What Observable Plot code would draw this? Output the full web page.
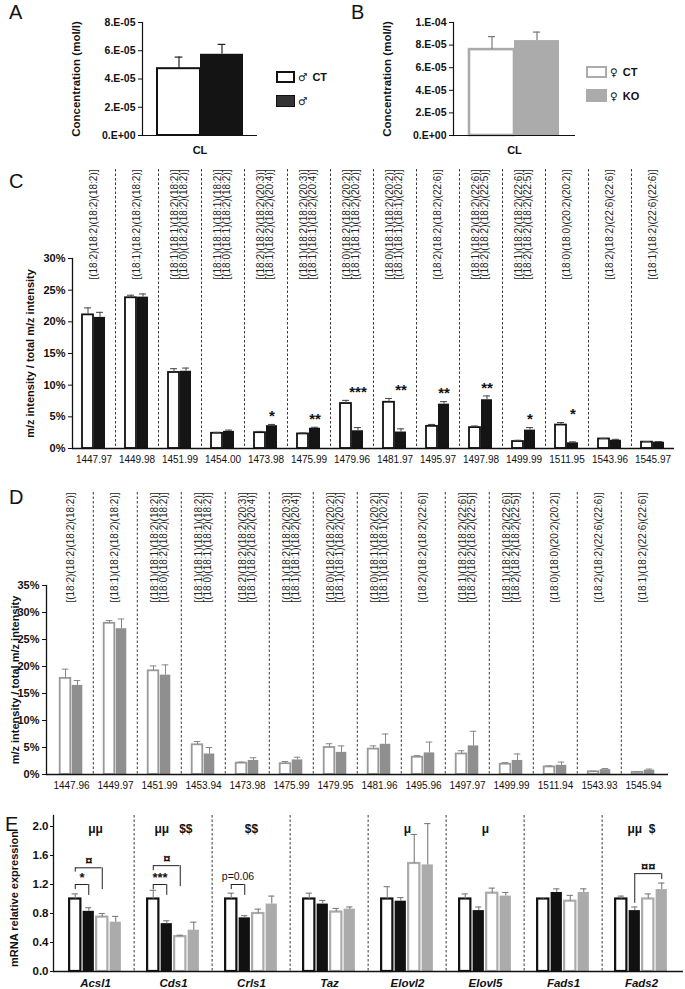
<!DOCTYPE html>
<html><head><meta charset="utf-8">
<script src="https://cdn.jsdelivr.net/npm/d3@7"></script>
<script src="https://cdn.jsdelivr.net/npm/@observablehq/plot@0.6"></script>
<style>
body{margin:0;background:#fff;}
#root{position:relative;width:685px;height:989px;overflow:hidden;font-family:"Liberation Sans",Arial,Helvetica,sans-serif;color:#111;}
.panel{position:absolute;left:0;}
.letter{position:absolute;font-size:20px;line-height:1;}
.leg{position:absolute;display:flex;align-items:center;font-size:11px;font-weight:bold;white-space:nowrap;}
.box{box-sizing:border-box;margin-right:3px;}
.sym{font-weight:normal;font-family:"DejaVu Sans",sans-serif;font-size:10.5px;margin-right:5px;}
.panel g[aria-label="y-axis tick label"]{font-weight:bold;}
</style></head><body><div id="root"></div>
<script>
// ---------- DATA ----------
// Panels A/B: cardiolipin concentration (mol/l)
const clGroups = ["CT", "KO"];
const clMaleMean = [4.73e-5, 5.75e-5];
const clMaleUpper = [5.55e-5, 6.45e-5];
const clFemaleMean = [7.6e-5, 8.4e-5];
const clFemaleUpper = [8.75e-5, 9.15e-5];
const ticksA = [0, 2e-5, 4e-5, 6e-5, 8e-5];
const tickLabelsA = ["0.E+00", "2.E-05", "4.E-05", "6.E-05", "8.E-05"];
const ticksB = [0, 2e-5, 4e-5, 6e-5, 8e-5, 1e-4];
const tickLabelsB = ["0.E+00", "2.E-05", "4.E-05", "6.E-05", "8.E-05", "1.E-04"];

// Species (shared by C and D)
const species = [
  "[(18:2)(18:2)(18:2)(18:2)]",
  "[(18:1)(18:2)(18:2)(18:2)]",
  "[(18:1)(18:1)(18:2)(18:2)]\n[(18:0)(18:2)(18:2)(18:2)]",
  "[(18:1)(18:1)(18:1)(18:2)]\n[(18:0)(18:1)(18:2)(18:2)]",
  "[(18:2)(18:2)(18:2)(20:3)]\n[(18:1)(18:2)(18:2)(20:4)]",
  "[(18:1)(18:2)(18:2)(20:3)]\n[(18:1)(18:1)(18:2)(20:4)]",
  "[(18:0)(18:2)(18:2)(20:2)]\n[(18:1)(18:1)(18:2)(20:2)]",
  "[(18:0)(18:1)(18:2)(20:2)]\n[(18:1)(18:1)(18:1)(20:2)]",
  "[(18:2)(18:2)(18:2)(22:6)]",
  "[(18:1)(18:2)(18:2)(22:6)]\n[(18:2)(18:2)(18:2)(22:5)]",
  "[(18:1)(18:2)(18:2)(22:6)]\n[(18:2)(18:2)(18:2)(22:5)]",
  "[(18:0)(18:0)(20:2)(20:2)]",
  "[(18:2)(18:2)(22:6)(22:6)]",
  "[(18:1)(18:2)(22:6)(22:6)]"
];

// Panel C (males), % of total m/z intensity
const massesC = ["1447.97","1449.98","1451.99","1454.00","1473.98","1475.99","1479.96","1481.97","1495.97","1497.98","1499.99","1511.95","1543.96","1545.97"];
const ctC  = [21.1, 23.8, 12.0, 2.4, 2.5, 2.3, 7.1, 7.3, 3.5, 3.3, 1.1, 3.7, 1.5, 1.0];
const ctCE = [22.2, 24.2, 12.6, 2.55, 2.7, 2.45, 7.6, 7.9, 3.8, 3.55, 1.3, 4.1, 1.6, 1.1];
const koC  = [20.7, 23.9, 12.2, 2.7, 3.6, 3.2, 2.8, 2.6, 7.0, 7.7, 2.9, 0.9, 1.3, 1.0];
const koCE = [21.5, 24.4, 12.7, 2.9, 3.8, 3.35, 3.3, 3.1, 7.4, 8.3, 3.3, 1.05, 1.45, 1.1];
const sigC = ["", "", "", "", "*", "**", "***", "**", "**", "**", "*", "*", "", ""];
const ticksC = [0, 5, 10, 15, 20, 25, 30];

// Panel D (females)
const massesD = ["1447.96","1449.97","1451.99","1453.94","1473.98","1475.99","1479.95","1481.96","1495.96","1497.97","1499.99","1511.94","1543.93","1545.94"];
const ctD  = [17.8, 28.0, 19.2, 5.5, 2.1, 2.0, 5.0, 4.7, 3.2, 3.8, 1.9, 1.4, 0.5, 0.4];
const ctDE = [19.5, 28.5, 20.1, 6.1, 2.3, 2.4, 5.7, 5.3, 3.5, 4.4, 2.2, 1.6, 0.6, 0.5];
const koD  = [16.5, 27.0, 18.4, 3.8, 2.6, 2.7, 4.1, 5.6, 4.0, 5.3, 2.6, 1.7, 0.9, 0.8];
const koDE = [17.4, 28.8, 20.3, 5.0, 3.1, 3.2, 5.3, 7.5, 6.0, 8.0, 3.8, 2.3, 1.1, 1.0];
const ticksD = [0, 5, 10, 15, 20, 25, 30, 35];

// Panel E: mRNA relative expression
const genes = ["Acsl1","Cds1","Crls1","Taz","Elovl2","Elovl5","Fads1","Fads2"];
const seriesE = ["CT male", "KO male", "CT female", "KO female"];
const ctMaleE   = [1.00, 1.00, 1.00, 1.00, 1.00, 1.00, 1.00, 1.00];
const ctMaleEU  = [1.07, 1.12, 1.08, 1.08, 1.17, 1.07, 1.02, 1.04];
const koMaleE   = [0.83, 0.66, 0.74, 0.93, 0.97, 0.84, 1.09, 0.84];
const koMaleEU  = [0.88, 0.70, 0.77, 0.98, 1.02, 0.89, 1.14, 0.89];
const ctFemaleE = [0.75, 0.48, 0.80, 0.82, 1.49, 1.08, 0.97, 1.00];
const ctFemaleEU= [0.80, 0.50, 0.86, 0.87, 1.89, 1.15, 1.05, 1.07];
const koFemaleE = [0.68, 0.57, 0.93, 0.86, 1.47, 1.04, 1.09, 1.13];
const koFemaleEU= [0.76, 0.68, 1.04, 0.89, 2.04, 1.09, 1.14, 1.22];
const ticksE = [0, 0.4, 0.8, 1.2, 1.6, 2.0];
const topNotesE = [["Acsl1","μμ"],["Cds1","μμ   $$"],["Crls1","$$"],["Elovl2","μ"],["Elovl5","μ"],["Fads2","μμ  $"]];
// brackets: gene, from series, to series, bracket level, left end, right end, label
const bracketsE = [
  ["Acsl1", 0, 1, 1.20, 1.13, 1.05, "*"],
  ["Acsl1", 0, 2, 1.43, 1.37, 1.13, "¤"],
  ["Cds1", 0, 1, 1.20, 1.13, 1.05, "***"],
  ["Cds1", 0, 2, 1.46, 1.39, 1.17, "¤"],
  ["Crls1", 0, 1, 1.20, 1.13, 1.05, "p=0.06"],
  ["Fads2", 1, 3, 1.35, 0.94, 1.27, "¤¤"]
];

// ---------- STYLE ----------
const FONT = '"Liberation Sans", Arial, Helvetica, sans-serif';
const W = 685;
const INK = "#111";
const root = document.getElementById("root");
const baseStyle = {background: "none", overflow: "visible", fontFamily: FONT, color: INK};

function place(el, top, left = 0) {
  const d = document.createElement("div");
  d.className = "panel";
  d.style.top = top + "px";
  d.style.left = left + "px";
  d.appendChild(el);
  root.appendChild(d);
}
function letter(t, x, y) {
  const d = document.createElement("div");
  d.className = "letter"; d.textContent = t;
  d.style.left = x + "px"; d.style.top = y + "px";
  root.appendChild(d);
}
function legend(x, y, w, h, boxStyle, sym, label) {
  const d = document.createElement("div");
  d.className = "leg"; d.style.left = x + "px"; d.style.top = y + "px";
  const b = document.createElement("div"); b.className = "box";
  b.style.width = w + "px"; b.style.height = h + "px";
  Object.assign(b.style, boxStyle);
  const s = document.createElement("span"); s.className = "sym"; s.textContent = sym;
  const t = document.createElement("span"); t.textContent = label;
  d.append(b, s, t);
  root.appendChild(d);
}

// ---------- PANELS A / B ----------
function clPanel({mean, upper, ticks, tickLabels, yMax, width, mL, mR, ctStroke, koFill, errColor, ctSW}) {
  const rows = clGroups.map((g, i) => ({g, mean: mean[i], upper: upper[i]}));
  const range = width - mL - mR;
  const bw = range / (2 + 2 * 0.33);
  return Plot.plot({
    width, height: 160, marginLeft: mL, marginRight: mR, marginTop: 22, marginBottom: 25,
    style: baseStyle,
    x: {domain: clGroups, paddingInner: 0, paddingOuter: 0.33, axis: null},
    y: {domain: [0, yMax], axis: null},
    marks: [
      Plot.barY(rows.filter(d => d.g === "CT"), {x: "g", y: "mean", fill: "white", stroke: ctStroke, strokeWidth: ctSW}),
      Plot.barY(rows.filter(d => d.g === "KO"), {x: "g", y: "mean", fill: koFill}),
      Plot.ruleX(rows, {x: "g", y1: "mean", y2: "upper", stroke: errColor, strokeWidth: 1.2}),
      Plot.tickY(rows, {x: "g", y: "upper", stroke: errColor, strokeWidth: 1.2, insetLeft: bw / 2 - 4, insetRight: bw / 2 - 4}),
      Plot.ruleY([0], {stroke: INK, strokeWidth: 1.2}),
      Plot.frame({anchor: "left", stroke: INK, strokeWidth: 1.2}),
      Plot.axisY({ticks, tickFormat: d => tickLabels[ticks.indexOf(d)], tickSize: 4, tickPadding: 3, fontSize: 10.5, fontWeight: "bold", label: null}),
      Plot.text(["CL"], {frameAnchor: "bottom", text: d => d, dy: 15, lineAnchor: "middle", fontSize: 11, fontWeight: "bold"}),
      Plot.text(["Concentration (mol/l)"], {frameAnchor: "left", text: d => d, rotate: -90, textAnchor: "middle", lineAnchor: "middle", dx: -66, fontSize: 11.5, fontWeight: "bold"})
    ]
  });
}
place(clPanel({mean: clMaleMean, upper: clMaleUpper, ticks: ticksA, tickLabels: tickLabelsA, yMax: 8e-5,
  width: 340, mL: 142, mR: 83, ctStroke: INK, koFill: "#141414", errColor: "#222", ctSW: 2}), 0, 0);
place(clPanel({mean: clFemaleMean, upper: clFemaleUpper, ticks: ticksB, tickLabels: tickLabelsB, yMax: 1e-4,
  width: 345, mL: 113, mR: 110, ctStroke: "#ababab", koFill: "#ababab", errColor: "#7a7a7a", ctSW: 2.6}), 0, 340);
letter("A", 9, 2);
letter("B", 351, 2);
legend(276, 71, 19, 12, {border: "2px solid " + INK, background: "#fff"}, "♂", "CT");
legend(276, 95, 19, 12, {border: "1px solid " + INK, background: "#333"}, "♂", "");
legend(586, 66, 21, 12, {border: "2px solid #ababab", background: "#fff"}, "♀", "CT");
legend(586, 89, 21, 13, {background: "#ababab"}, "♀", "KO");

// ---------- PANELS C / D ----------
function massPanel({masses, ct, ctE, ko, koE, sig, ticks, yMax, height, mT, mB, mL, mR, labelRise, ctStroke, koFill, errColor, titleDx}) {
  const n = masses.length;
  const bw = (W - mL - mR) / n;
  const barW = 11;
  const rows = masses.map((m, i) => ({mass: m, species: species[i], ct: ct[i], ctE: ctE[i], ko: ko[i], koE: koE[i], sig: sig ? sig[i] : ""}));
  const ctIn = [bw / 2 - barW - 0.5, bw / 2 + 0.5];
  const koIn = [bw / 2 + 0.5, bw / 2 - barW - 0.5];
  const cOff = barW / 2 + 0.5;
  return Plot.plot({
    width: W, height, marginTop: mT, marginBottom: mB, marginLeft: mL, marginRight: mR,
    style: baseStyle,
    x: {domain: masses, padding: 0, axis: null},
    y: {domain: [0, yMax], axis: null},
    marks: [
      Plot.ruleX(masses.slice(1), {x: d => d, dx: -bw / 2, insetTop: -labelRise, stroke: "#222", strokeWidth: 0.9, strokeDasharray: "2.5,2"}),
      Plot.text(rows, {x: "mass", text: "species", frameAnchor: "top", rotate: -90, textAnchor: "end", lineAnchor: "middle", dy: -labelRise, lineHeight: 0.9, fontSize: 10, fill: "#222"}),
      Plot.barY(rows, {x: "mass", y: "ct", insetLeft: ctIn[0], insetRight: ctIn[1], fill: "white", stroke: ctStroke, strokeWidth: 1.8}),
      Plot.barY(rows, {x: "mass", y: "ko", insetLeft: koIn[0], insetRight: koIn[1], fill: koFill}),
      Plot.ruleX(rows, {x: "mass", y1: "ct", y2: "ctE", dx: -cOff, stroke: errColor, strokeWidth: 1}),
      Plot.ruleX(rows, {x: "mass", y1: "ko", y2: "koE", dx: cOff, stroke: errColor, strokeWidth: 1}),
      Plot.tickY(rows, {x: "mass", y: "ctE", insetLeft: bw / 2 - cOff - 3.5, insetRight: bw / 2 + cOff - 3.5, stroke: errColor, strokeWidth: 1}),
      Plot.tickY(rows, {x: "mass", y: "koE", insetLeft: bw / 2 + cOff - 3.5, insetRight: bw / 2 - cOff - 3.5, stroke: errColor, strokeWidth: 1}),
      Plot.text(rows.filter(d => d.sig), {x: "mass", y: d => Math.max(d.ctE, d.koE), text: "sig", dx: 6, dy: -8, fontSize: 15, fontWeight: "bold", fill: INK}),
      Plot.ruleY([0], {stroke: INK, strokeWidth: 1.3}),
      Plot.frame({anchor: "left", stroke: INK, strokeWidth: 1.3}),
      Plot.axisY({ticks, tickFormat: d => d + "%", tickSize: 4, tickPadding: 3, fontSize: 11, fontWeight: "bold", label: null}),
      Plot.axisX({tickSize: 0, tickPadding: 7, fontSize: 10, label: null}),
      Plot.text(["m/z intensity / total m/z intensity"], {frameAnchor: "left", text: d => d, rotate: -90, textAnchor: "middle", lineAnchor: "middle", dx: titleDx, fontSize: 11, fontWeight: "bold"})
    ]
  });
}
place(massPanel({masses: massesC, ct: ctC, ctE: ctCE, ko: koC, koE: koCE, sig: sigC, ticks: ticksC, yMax: 30,
  height: 330, mT: 108, mB: 32, mL: 72, mR: 11, labelRise: 89, ctStroke: INK, koFill: "#151515", errColor: "#444", titleDx: -42}), 150);
place(massPanel({masses: massesD, ct: ctD, ctE: ctDE, ko: koD, koE: koDE, sig: null, ticks: ticksD, yMax: 35,
  height: 316, mT: 105, mB: 22, mL: 46, mR: 17, labelRise: 93, ctStroke: "#999", koFill: "#8f8f8f", errColor: "#888", titleDx: -31}), 480);
letter("C", 9, 171);
letter("D", 9, 487);

// ---------- PANEL E ----------
(function () {
  const mL = 53, mR = 2;
  const bw = (W - mL - mR) / genes.length;
  const barW = 12, step = 13.5;
  const start = (bw - (3 * step + barW)) / 2;
  const means = [ctMaleE, koMaleE, ctFemaleE, koFemaleE];
  const uppers = [ctMaleEU, koMaleEU, ctFemaleEU, koFemaleEU];
  const styles = [
    {fill: "white", stroke: INK, strokeWidth: 2.2},
    {fill: INK},
    {fill: "white", stroke: "#ababab", strokeWidth: 2.2},
    {fill: "#ababab"}
  ];
  const left = s => start + s * step;          // bar left offset within band
  const ctr = s => left(s) + barW / 2;         // bar centre offset within band
  const marks = [];
  marks.push(Plot.ruleX(genes.slice(1), {x: d => d, dx: -bw / 2, insetTop: -11, stroke: "#222", strokeWidth: 0.9, strokeDasharray: "2.5,2"}));
  seriesE.forEach((s, si) => {
    const rows = genes.map((g, i) => ({gene: g, v: means[si][i], u: uppers[si][i]}));
    marks.push(Plot.barY(rows, {x: "gene", y: "v", insetLeft: left(si), insetRight: bw - left(si) - barW, ...styles[si]}));
    marks.push(Plot.ruleX(rows, {x: "gene", y1: "v", y2: "u", dx: ctr(si) - bw / 2, stroke: "#7d7d7d", strokeWidth: 1.1}));
    marks.push(Plot.tickY(rows, {x: "gene", y: "u", insetLeft: ctr(si) - 3.5, insetRight: bw - ctr(si) - 3.5, stroke: "#7d7d7d", strokeWidth: 1.1}));
  });
  bracketsE.forEach(([gene, a, b, y, ya, yb, label]) => {
    const d = [{gene, y, ya, yb, label}];
    marks.push(Plot.tickY(d, {x: "gene", y: "y", insetLeft: ctr(a), insetRight: bw - ctr(b), stroke: "#222", strokeWidth: 1}));
    marks.push(Plot.ruleX(d, {x: "gene", y1: "y", y2: "ya", dx: ctr(a) - bw / 2, stroke: "#222", strokeWidth: 1}));
    marks.push(Plot.ruleX(d, {x: "gene", y1: "y", y2: "yb", dx: ctr(b) - bw / 2, stroke: "#222", strokeWidth: 1}));
    const isP = label.startsWith("p");
    marks.push(Plot.text(d, {x: "gene", y: "y", text: "label", dx: (ctr(a) + ctr(b)) / 2 - bw / 2, dy: isP ? -8 : -7,
      fontSize: isP ? 10.5 : 13, fontWeight: isP ? "normal" : "bold", fill: INK}));
  });
  marks.push(Plot.text(topNotesE.map(([gene, t]) => ({gene, t})), {x: "gene", y: () => 2.0, text: "t", dy: 3, fontSize: 12, fontWeight: "bold", fill: INK}));
  marks.push(Plot.ruleY([0], {stroke: INK, strokeWidth: 1.3}));
  marks.push(Plot.frame({anchor: "left", insetTop: -11, stroke: INK, strokeWidth: 1.3}));
  marks.push(Plot.axisY({ticks: ticksE, tickFormat: d => d.toFixed(1), tickSize: 3, tickPadding: 2, fontSize: 11.5, fontWeight: "bold", label: null}));
  marks.push(Plot.axisX({tickSize: 0, tickPadding: 7, fontSize: 11.5, fontWeight: "bold", fontStyle: "italic", label: null}));
  marks.push(Plot.text(["mRNA relative expression"], {frameAnchor: "left", text: d => d, rotate: -90, textAnchor: "middle", lineAnchor: "middle", dx: -39, fontSize: 11, fontWeight: "bold"}));
  place(Plot.plot({
    width: W, height: 189, marginTop: 26, marginBottom: 18, marginLeft: mL, marginRight: mR,
    style: baseStyle,
    x: {domain: genes, padding: 0, axis: null},
    y: {domain: [0, 2.0], axis: null},
    marks
  }), 800);
  letter("E", 5, 814);
})();
</script></body></html>
